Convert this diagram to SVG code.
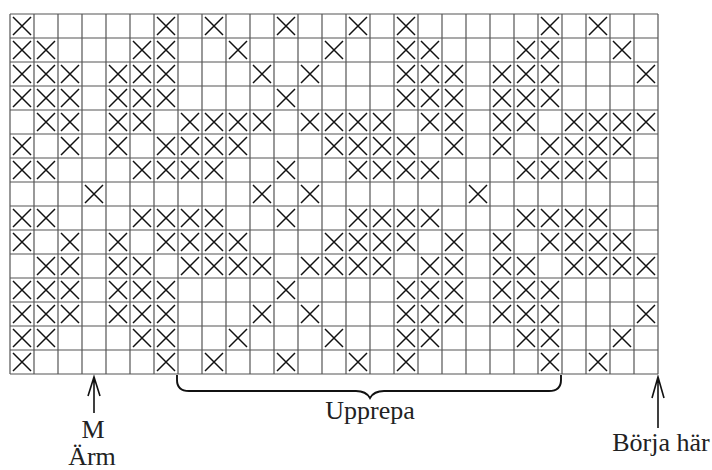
<svg xmlns="http://www.w3.org/2000/svg" width="712" height="470" viewBox="0 0 712 470">
<style>
.grid{fill:none;stroke:#555;stroke-width:1.2}
.x{fill:none;stroke:#111;stroke-width:1.5}
.ann{fill:none;stroke:#111;stroke-width:1.6}
.brace{fill:none;stroke:#111;stroke-width:1.9}
.lbl{font-size:26px;fill:#222;text-anchor:middle}
</style>
<defs>
<path id="x" class="x" d="M3,3L21,21M21,3L3,21"/>
<g id="r0"><use href="#x" x="10"/><use href="#x" x="154"/><use href="#x" x="202"/><use href="#x" x="274"/><use href="#x" x="346"/><use href="#x" x="394"/><use href="#x" x="538"/><use href="#x" x="586"/></g>
<g id="r1"><use href="#x" x="10"/><use href="#x" x="34"/><use href="#x" x="130"/><use href="#x" x="154"/><use href="#x" x="226"/><use href="#x" x="322"/><use href="#x" x="394"/><use href="#x" x="418"/><use href="#x" x="514"/><use href="#x" x="538"/><use href="#x" x="610"/></g>
<g id="r2"><use href="#x" x="10"/><use href="#x" x="34"/><use href="#x" x="58"/><use href="#x" x="106"/><use href="#x" x="130"/><use href="#x" x="154"/><use href="#x" x="250"/><use href="#x" x="298"/><use href="#x" x="394"/><use href="#x" x="418"/><use href="#x" x="442"/><use href="#x" x="490"/><use href="#x" x="514"/><use href="#x" x="538"/><use href="#x" x="634"/></g>
<g id="r3"><use href="#x" x="10"/><use href="#x" x="34"/><use href="#x" x="58"/><use href="#x" x="106"/><use href="#x" x="130"/><use href="#x" x="154"/><use href="#x" x="274"/><use href="#x" x="394"/><use href="#x" x="418"/><use href="#x" x="442"/><use href="#x" x="490"/><use href="#x" x="514"/><use href="#x" x="538"/></g>
<g id="r4"><use href="#x" x="34"/><use href="#x" x="58"/><use href="#x" x="106"/><use href="#x" x="130"/><use href="#x" x="178"/><use href="#x" x="202"/><use href="#x" x="226"/><use href="#x" x="250"/><use href="#x" x="298"/><use href="#x" x="322"/><use href="#x" x="346"/><use href="#x" x="370"/><use href="#x" x="418"/><use href="#x" x="442"/><use href="#x" x="490"/><use href="#x" x="514"/><use href="#x" x="562"/><use href="#x" x="586"/><use href="#x" x="610"/><use href="#x" x="634"/></g>
<g id="r5"><use href="#x" x="10"/><use href="#x" x="58"/><use href="#x" x="106"/><use href="#x" x="154"/><use href="#x" x="178"/><use href="#x" x="202"/><use href="#x" x="226"/><use href="#x" x="322"/><use href="#x" x="346"/><use href="#x" x="370"/><use href="#x" x="394"/><use href="#x" x="442"/><use href="#x" x="490"/><use href="#x" x="538"/><use href="#x" x="562"/><use href="#x" x="586"/><use href="#x" x="610"/></g>
<g id="r6"><use href="#x" x="10"/><use href="#x" x="34"/><use href="#x" x="130"/><use href="#x" x="154"/><use href="#x" x="178"/><use href="#x" x="202"/><use href="#x" x="274"/><use href="#x" x="346"/><use href="#x" x="370"/><use href="#x" x="394"/><use href="#x" x="418"/><use href="#x" x="514"/><use href="#x" x="538"/><use href="#x" x="562"/><use href="#x" x="586"/></g>
<g id="r7"><use href="#x" x="82"/><use href="#x" x="250"/><use href="#x" x="298"/><use href="#x" x="466"/></g>
</defs>
<rect width="712" height="470" fill="#fff"/>
<g id="grid">
<path class="grid" d="M10,14V374M34,14V374M58,14V374M82,14V374M106,14V374M130,14V374M154,14V374M178,14V374M202,14V374M226,14V374M250,14V374M274,14V374M298,14V374M322,14V374M346,14V374M370,14V374M394,14V374M418,14V374M442,14V374M466,14V374M490,14V374M514,14V374M538,14V374M562,14V374M586,14V374M610,14V374M634,14V374M658,14V374M10,14H658M10,38H658M10,62H658M10,86H658M10,110H658M10,134H658M10,158H658M10,182H658M10,206H658M10,230H658M10,254H658M10,278H658M10,302H658M10,326H658M10,350H658M10,374H658"/>
</g>
<g id="marks">
<use href="#r0" y="14"/><use href="#r1" y="38"/><use href="#r2" y="62"/><use href="#r3" y="86"/><use href="#r4" y="110"/><use href="#r5" y="134"/><use href="#r6" y="158"/><use href="#r7" y="182"/><use href="#r6" y="206"/><use href="#r5" y="230"/><use href="#r4" y="254"/><use href="#r3" y="278"/><use href="#r2" y="302"/><use href="#r1" y="326"/><use href="#r0" y="350"/>
</g>
<g id="connectors">
<path class="ann" d="M94,413V377M88,396L94,377L100,396"/>
<path class="ann" d="M658,428V377M652,398L658,377L664,398"/>
<path class="brace" d="M177,375V380Q177,391 189,391H356Q366,391 370,398Q374,391 384,391H549Q561,391 561,380V375"/>
</g>
<g id="labels" font-family="'Liberation Serif', 'DejaVu Serif', serif">
<text class="lbl" x="93" y="438" font-family="Liberation Serif, DejaVu Serif, serif">M</text>
<text class="lbl" x="92" y="465" font-family="Liberation Serif, DejaVu Serif, serif">Ärm</text>
<text class="lbl" x="370" y="419" font-family="Liberation Serif, DejaVu Serif, serif">Upprepa</text>
<text class="lbl" x="661" y="451" font-family="Liberation Serif, DejaVu Serif, serif">Börja här</text>
</g>
</svg>
